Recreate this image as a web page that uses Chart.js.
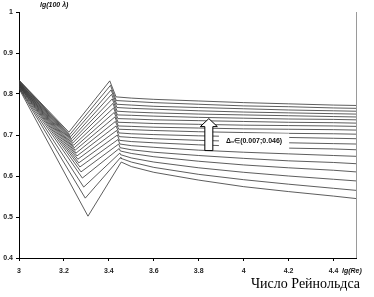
<!DOCTYPE html>
<html><head><meta charset="utf-8">
<script src="https://cdn.jsdelivr.net/npm/chart.js@4.4.0/dist/chart.umd.min.js"></script>
<style>html,body{margin:0;padding:0;background:#fff}#wrap{width:374px;height:297px}</style>
</head><body><div id="wrap"><canvas id="c" width="374" height="297"></canvas></div>
<script>
// ---- data (19 curves, top to bottom) ----
const xStart = 3;
const startY = [0.834,0.833,0.832,0.830,0.829,0.828,0.827,0.826,0.825,0.824,0.823,0.822,0.821,0.820,0.819,0.817,0.816,0.815,0.813];
const minX  = [3.222,3.226,3.230,3.234,3.237,3.240,3.243,3.246,3.250,3.254,3.258,3.262,3.266,3.271,3.276,3.282,3.288,3.295,3.307];
const minY  = [0.707,0.701,0.696,0.691,0.686,0.681,0.675,0.669,0.663,0.656,0.649,0.641,0.632,0.622,0.610,0.595,0.573,0.546,0.502];
const peakX = [3.404,3.407,3.410,3.412,3.415,3.418,3.421,3.424,3.427,3.429,3.432,3.435,3.438,3.441,3.444,3.446,3.449,3.452,3.455];
const peakY = [0.832,0.821,0.810,0.799,0.788,0.777,0.766,0.755,0.744,0.733,0.722,0.711,0.700,0.689,0.678,0.667,0.656,0.645,0.634];
const kneeX = [3.432,3.433,3.435,3.436,3.437,3.438,3.440,3.441,3.442,3.444,3.445,3.446,3.447,3.449,3.450,3.451,3.452,3.454,3.455];
const kneeY = [0.793,0.784,0.775,0.767,0.758,0.749,0.740,0.731,0.722,0.714,0.705,0.696,0.687,0.678,0.669,0.661,0.652,0.643,0.634];
const tailX = [3.5,3.6,3.8,4.0,4.2,4.4,4.5];
const tailY = [
 [0.790,0.787,0.783,0.779,0.776,0.773,0.772],
 [0.782,0.779,0.775,0.771,0.769,0.766,0.765],
 [0.773,0.770,0.767,0.764,0.761,0.759,0.758],
 [0.765,0.763,0.759,0.756,0.754,0.752,0.751],
 [0.756,0.754,0.751,0.749,0.747,0.745,0.744],
 [0.748,0.746,0.743,0.741,0.739,0.738,0.737],
 [0.739,0.737,0.735,0.733,0.731,0.730,0.729],
 [0.730,0.728,0.726,0.724,0.723,0.722,0.721],
 [0.721,0.719,0.717,0.715,0.714,0.713,0.712],
 [0.713,0.711,0.708,0.706,0.704,0.703,0.702],
 [0.703,0.701,0.698,0.696,0.694,0.692,0.691],
 [0.694,0.691,0.687,0.684,0.681,0.679,0.678],
 [0.684,0.681,0.676,0.672,0.668,0.666,0.664],
 [0.674,0.670,0.663,0.658,0.654,0.650,0.648],
 [0.664,0.658,0.650,0.643,0.637,0.633,0.630],
 [0.655,0.647,0.636,0.627,0.620,0.614,0.610],
 [0.644,0.634,0.620,0.609,0.600,0.592,0.588],
 [0.634,0.621,0.604,0.591,0.580,0.570,0.565],
 [0.623,0.609,0.590,0.574,0.562,0.551,0.545]
];
const xTicks = [3,3.2,3.4,3.6,3.8,4,4.2,4.4];
const yMin = 0.4, yMax = 1, yStep = 0.1;
const xMin = 3, xMax = 4.5;
const yAxisTitle = 'lg(100 λ)';
const xAxisTitle = 'lg(Re)';
const bottomCaption = 'Число Рейнольдса';
const noteText = 'Δ₀∈(0.007;0.046)';
const arrowAt = {x: 3.845, yBottom: 0.662, yTop: 0.740};
const noteAt = {x: 3.89, y: 0.684};

const datasets = startY.map((s, i) => {
  const pts = [{x: xStart, y: s}, {x: minX[i], y: minY[i]}, {x: peakX[i], y: peakY[i]}, {x: kneeX[i], y: kneeY[i]}];
  tailX.forEach((tx, j) => pts.push({x: tx, y: tailY[i][j]}));
  return {data: pts, showLine: true, borderColor: '#333333', borderWidth: 0.8, pointRadius: 0, tension: 0, fill: false};
});

const deco = {
  id: 'deco',
  afterDatasetsDraw(chart) {
    const {ctx, chartArea: a, scales: {x, y}} = chart;
    ctx.save();
    // right frame line
    ctx.strokeStyle = '#9a9a9a'; ctx.lineWidth = 1;
    ctx.beginPath(); ctx.moveTo(Math.round(a.right) + 0.5, a.top); ctx.lineTo(Math.round(a.right) + 0.5, a.bottom); ctx.stroke();
    // arrow
    const cx = x.getPixelForValue(arrowAt.x), yb = y.getPixelForValue(arrowAt.yBottom), yt = y.getPixelForValue(arrowAt.yTop);
    const hw = 4, hh = 8.5, headH = 8;
    ctx.beginPath();
    ctx.moveTo(cx - hw, yb); ctx.lineTo(cx - hw, yt + headH); ctx.lineTo(cx - hh, yt + headH);
    ctx.lineTo(cx, yt); ctx.lineTo(cx + hh, yt + headH); ctx.lineTo(cx + hw, yt + headH); ctx.lineTo(cx + hw, yb); ctx.closePath();
    ctx.fillStyle = '#fff'; ctx.fill(); ctx.strokeStyle = '#000'; ctx.lineWidth = 1; ctx.stroke();
    // note box
    ctx.font = 'bold 7px "Liberation Sans", Arial, sans-serif';
    const nx = x.getPixelForValue(noteAt.x), ny = y.getPixelForValue(noteAt.y);
    const w = ctx.measureText(noteText).width;
    ctx.fillStyle = '#fff'; ctx.fillRect(nx, ny - 8, w + 14, 16);
    ctx.fillStyle = '#111'; ctx.textBaseline = 'middle'; ctx.textAlign = 'left';
    ctx.fillText(noteText, nx + 7, ny);
    // axis titles
    ctx.font = 'italic bold 7px "Liberation Sans", Arial, sans-serif';
    ctx.textAlign = 'left';
    ctx.fillText(yAxisTitle, a.left + 21, a.top - 7);
    ctx.fillText(xAxisTitle, a.right - 14, a.bottom + 13);
    // caption
    ctx.font = '14px "Liberation Serif", "Times New Roman", serif';
    ctx.fillStyle = '#000'; ctx.textAlign = 'right';
    ctx.fillText(bottomCaption, a.right + 4, a.bottom + 26);
    ctx.restore();
  }
};

new Chart(document.getElementById('c'), {
  type: 'scatter',
  data: {datasets},
  options: {
    responsive: false, animation: false, devicePixelRatio: 1,
    layout: {padding: {top: 12, right: 18, left: 0, bottom: 0}},
    plugins: {legend: {display: false}, tooltip: {enabled: false}},
    scales: {
      x: {
        type: 'linear', min: xMin, max: xMax,
        afterBuildTicks: s => { s.ticks = xTicks.map(v => ({value: v})); },
        afterFit: s => { s.height = 39; },
        grid: {display: true, drawOnChartArea: false, drawTicks: true, tickLength: 3, color: '#000'},
        border: {display: true, color: '#000', width: 1},
        ticks: {padding: 6, maxRotation: 0, autoSkip: false, color: '#222',
          font: {family: '"Liberation Sans", Arial, sans-serif', size: 7, weight: 'bold'},
          callback: v => String(Number(v.toFixed(1)))}
      },
      y: {
        type: 'linear', min: yMin, max: yMax,
        afterFit: s => { s.width = 19; },
        grid: {display: true, drawOnChartArea: false, drawTicks: true, tickLength: 3, color: '#000'},
        border: {display: true, color: '#000', width: 1},
        ticks: {stepSize: yStep, padding: 3, color: '#222',
          font: {family: '"Liberation Sans", Arial, sans-serif', size: 7, weight: 'bold'},
          callback: v => String(Number(v.toFixed(1)))}
      }
    }
  },
  plugins: [deco]
});
</script></body></html>
